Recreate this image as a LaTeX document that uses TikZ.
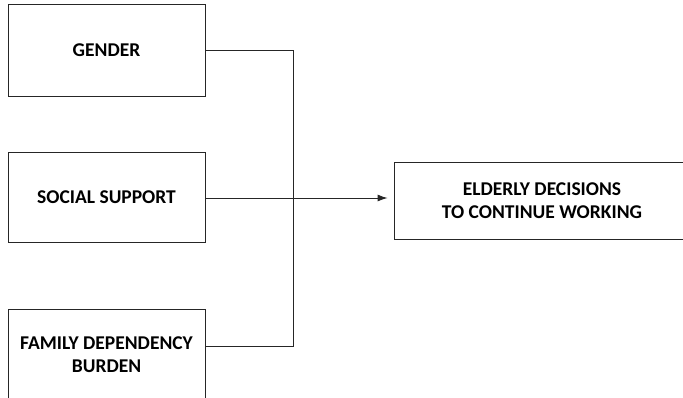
\documentclass[tikz,border=0pt]{standalone}
\usepackage{fontspec}
\setmainfont{Carlito}
\usetikzlibrary{arrows.meta}
\begin{document}
\begin{tikzpicture}[x=1pt,y=-1pt,line width=0.9pt,
  factor/.style={draw=black!85,minimum width=197pt,align=center,inner sep=0pt,
    font=\fontsize{19.5}{22.5}\selectfont\bfseries},
  link/.style={draw=black!85,line cap=rect}]
\clip (0,0) rectangle (683,397);
%\draw[step=50,very thin,color=gray] (0,0) grid (683,397);
\node[factor,minimum height=92pt] (gender) at (106.5,50) {GENDER};
\node[factor,minimum height=90pt] (social) at (106.5,197.5) {SOCIAL SUPPORT};
\node[factor,minimum height=91pt] (family) at (106.5,354.5) {FAMILY DEPENDENCY\\BURDEN};
\node[factor,minimum width=296pt,minimum height=77pt] (decision) at (542,200.5) {ELDERLY DECISIONS\\TO CONTINUE WORKING};
% joining line
\coordinate (bustop) at (293,50);
\coordinate (busbot) at (293,346);
\draw[link] (gender.east) -- (bustop) -- (busbot) -- (family.east |- busbot);
\draw[link,-{Latex[length=10pt,width=7pt]},shorten >=6pt] (social.east |- 0,198) -- (decision.west |- 0,198);
\end{tikzpicture}
\end{document}
